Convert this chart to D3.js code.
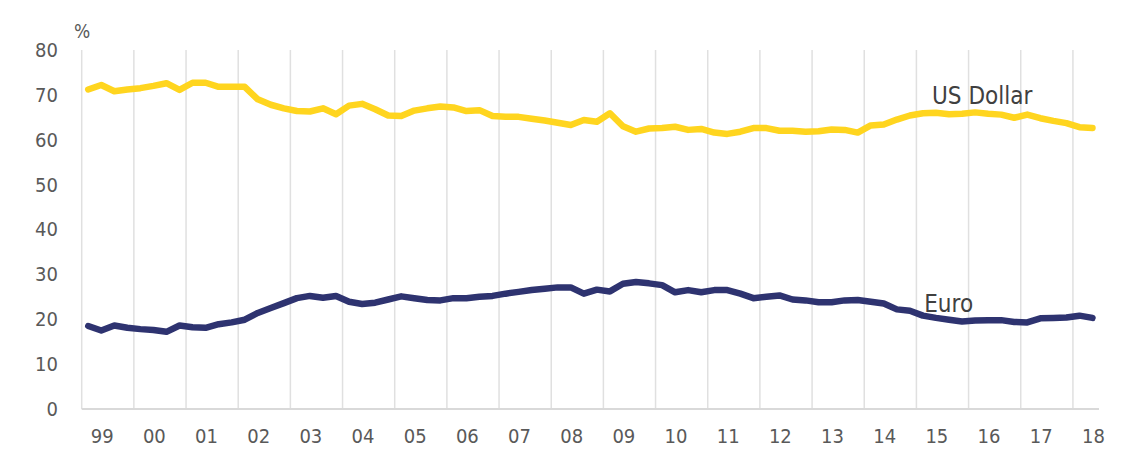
<!DOCTYPE html>
<html>
<head>
<meta charset="utf-8">
<script src="https://cdn.jsdelivr.net/npm/d3@7"></script>
<style>
  body { margin: 0; background: #fff; }
  text { font-family: "Liberation Sans Narrow", "DejaVu Sans Condensed", "Open Sans", sans-serif; }
</style>
</head>
<body>
<svg id="chart" width="1121" height="456"></svg>
<script>
const yearLabels = ["99","00","01","02","03","04","05","06","07","08","09","10","11","12","13","14","15","16","17","18"];

// quarterly shares, 1999Q1 .. 2018Q2
const usd = [
  71.2, 72.2, 70.8, 71.2, 71.5, 72.0, 72.6, 71.1, 72.7, 72.7,
  71.8, 71.8, 71.8, 69.0, 67.8, 67.0, 66.4, 66.3, 67.0, 65.7,
  67.6, 68.0, 66.8, 65.4, 65.3, 66.5, 67.0, 67.4, 67.2, 66.4,
  66.6, 65.3, 65.1, 65.1, 64.7, 64.3, 63.8, 63.3, 64.4, 64.0,
  65.9, 63.0, 61.8, 62.5, 62.6, 62.9, 62.2, 62.4, 61.6, 61.3,
  61.8, 62.6, 62.6, 62.0, 62.0, 61.8, 61.9, 62.3, 62.2, 61.6,
  63.2, 63.4, 64.5, 65.4, 65.9, 66.0, 65.7, 65.8, 66.1, 65.8,
  65.6, 64.9, 65.6, 64.8, 64.2, 63.7, 62.8, 62.6
];
const euro = [
  18.5, 17.5, 18.6, 18.1, 17.8, 17.6, 17.2, 18.6, 18.2, 18.1,
  18.9, 19.3, 19.9, 21.4, 22.5, 23.6, 24.7, 25.2, 24.8, 25.2,
  23.9, 23.4, 23.7, 24.4, 25.1, 24.7, 24.3, 24.2, 24.7, 24.7,
  25.0, 25.2, 25.7, 26.1, 26.5, 26.8, 27.1, 27.1, 25.7, 26.6,
  26.2, 27.9, 28.3, 28.0, 27.6, 26.0, 26.5, 26.0, 26.5, 26.5,
  25.7, 24.7, 25.0, 25.3, 24.4, 24.2, 23.8, 23.8, 24.2, 24.3,
  23.9, 23.5, 22.2, 21.9, 20.8, 20.3, 19.9, 19.5, 19.7, 19.8,
  19.8, 19.4, 19.3, 20.2, 20.3, 20.4, 20.8, 20.3
];
const yTicks = [0, 10, 20, 30, 40, 50, 60, 70, 80];

const svg = d3.select("#chart");
const nQ = usd.length;

const x = d3.scaleLinear().domain([0, nQ]).range([81.7, 1099]);
const y = d3.scaleLinear().domain([0, 80]).range([409, 50]);

// vertical gridlines at year boundaries
svg.append("g")
  .selectAll("line")
  .data(d3.range(0, nQ, 4))
  .join("line")
    .attr("x1", d => x(d)).attr("x2", d => x(d))
    .attr("y1", y(80)).attr("y2", y(0))
    .attr("stroke", "#e0e0e0")
    .attr("stroke-width", 1.5);

// baseline
svg.append("line")
  .attr("x1", x(0)).attr("x2", x(nQ))
  .attr("y1", y(0)).attr("y2", y(0))
  .attr("stroke", "#d9d9d9")
  .attr("stroke-width", 2);

// y axis labels
const yAxis = svg.append("g")
  .attr("transform", "translate(58,0)")
  .call(d3.axisLeft(y).tickValues(yTicks).tickSize(0).tickPadding(0));
yAxis.select(".domain").remove();
yAxis.selectAll("text")
  .attr("fill", "#595959")
  .style("font-size", "20px");

// x axis labels
const xAxis = svg.append("g")
  .attr("transform", `translate(0,${y(0)})`)
  .call(d3.axisBottom(x)
    .tickValues(yearLabels.map((d, i) => i * 4 + 1.53))
    .tickFormat((d, i) => yearLabels[i])
    .tickSize(0).tickPadding(20));
xAxis.select(".domain").remove();
xAxis.selectAll("text")
  .attr("fill", "#595959")
  .style("font-size", "20px");

svg.append("text")
  .attr("x", 82).attr("y", 38)
  .attr("text-anchor", "middle")
  .attr("fill", "#595959")
  .style("font-size", "19px")
  .text("%");

const line = d3.line()
  .x((d, i) => x(i + 0.5))
  .y(d => y(d));

svg.append("path")
  .datum(usd)
  .attr("d", line)
  .attr("fill", "none")
  .attr("stroke", "#ffd51f")
  .attr("stroke-width", 6.5)
  .attr("stroke-linejoin", "round")
  .attr("stroke-linecap", "round");

svg.append("path")
  .datum(euro)
  .attr("d", line)
  .attr("fill", "none")
  .attr("stroke", "#2e3370")
  .attr("stroke-width", 6.5)
  .attr("stroke-linejoin", "round")
  .attr("stroke-linecap", "round");

svg.append("text")
  .attr("x", x(65.2)).attr("y", y(68.0))
  .attr("fill", "#404040")
  .style("font-size", "24px")
  .text("US Dollar");

svg.append("text")
  .attr("x", x(64.6)).attr("y", y(21.6))
  .attr("fill", "#404040")
  .style("font-size", "24px")
  .text("Euro");
</script>
</body>
</html>
